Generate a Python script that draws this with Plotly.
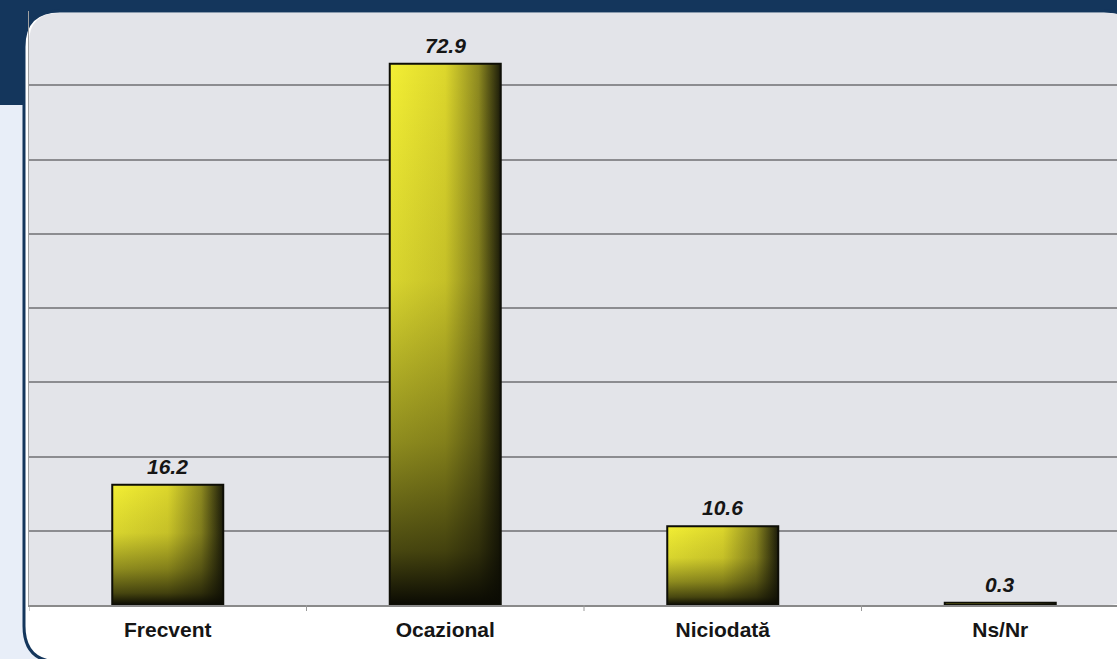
import plotly.graph_objects as go

categories = ["Frecvent", "Ocazional", "Niciodată", "Ns/Nr"]
values = [16.2, 72.9, 10.6, 0.3]
value_labels = ["16.2", "72.9", "10.6", "0.3"]

W, H = 1117, 659
L, R, T, B = 29, 0, 11, 54
pw, ph = W - L - R, H - T - B
CAT_PX = 277.5
BAR_W = 0.4
NAVY = "#14365C"
FONT = "Liberation Sans, Arial, sans-serif"


def px(x):
    return (x - L) / pw


def py(y):
    return (H - B - y) / ph


def rrect(x0, y0, x1, y1, r):
    pts = [
        ("M", [(x0 + r, y0)]), ("L", [(x1 - r, y0)]), ("Q", [(x1, y0), (x1, y0 + r)]),
        ("L", [(x1, y1 - r)]), ("Q", [(x1, y1), (x1 - r, y1)]), ("L", [(x0 + r, y1)]),
        ("Q", [(x0, y1), (x0, y1 - r)]), ("L", [(x0, y0 + r)]), ("Q", [(x0, y0), (x0 + r, y0)]),
    ]
    s = ""
    for cmd, ps in pts:
        s += cmd + " " + " ".join(f"{px(a):.5f},{py(b):.5f}" for a, b in ps) + " "
    return s + "Z"


fig = go.Figure()

# real bars (data carrier)
fig.add_trace(go.Bar(
    x=list(range(len(categories))), y=values, width=BAR_W,
    marker=dict(color="rgba(0,0,0,0)", line=dict(width=0)),
    hoverinfo="skip", showlegend=False,
))

for i, v in enumerate(values):
    xs = [i - BAR_W / 2, i + BAR_W / 2, i + BAR_W / 2, i - BAR_W / 2, i - BAR_W / 2]
    ys = [0, 0, v, v, 0]
    fig.add_trace(go.Scatter(
        x=xs, y=ys, mode="lines", fill="toself", line=dict(width=0),
        fillgradient=dict(type="horizontal",
                          colorscale=[[0, "#F3EF34"], [0.5, "#DDD72C"], [0.8, "#8E8A20"], [1, "#1C1C0A"]]),
        hoverinfo="skip", showlegend=False,
    ))
    fig.add_trace(go.Scatter(
        x=xs, y=ys, mode="lines", fill="toself", line=dict(width=2, color="#0E0E06"),
        fillgradient=dict(type="vertical",
                          colorscale=[[0, "rgba(10,10,3,1)"], [0.1, "rgba(15,15,4,0.75)"],
                                      [0.3, "rgba(20,20,5,0.45)"], [0.6, "rgba(25,25,6,0.12)"],
                                      [1, "rgba(0,0,0,0)"]]),
        hoverinfo="skip", showlegend=False,
    ))

annotations = [
    dict(x=i, y=v, xref="x", yref="y", text=lab, showarrow=False, yanchor="bottom", yshift=5,
         font=dict(family=FONT, size=21, color="#151515", weight="bold", style="italic"))
    for i, (v, lab) in enumerate(zip(values, value_labels))
]

shapes = [
    dict(type="rect", xref="paper", yref="paper", x0=px(0), x1=px(W), y0=py(105), y1=py(0),
         fillcolor=NAVY, line=dict(width=0), layer="below"),
    dict(type="rect", xref="paper", yref="paper", x0=px(0), x1=px(60), y0=py(H), y1=py(105),
         fillcolor="#E8EEF8", line=dict(width=0), layer="below"),
    dict(type="path", xref="paper", yref="paper", path=rrect(24, 11, 1140, 662, 36),
         fillcolor="#FFFFFF", line=dict(color=NAVY, width=3), layer="below"),
    dict(type="path", xref="paper", yref="paper", path=rrect(29, 13, 1137, 605, 30),
         fillcolor="#E3E4E9", line=dict(width=0), layer="below"),
    dict(type="rect", xref="paper", yref="paper", x0=px(29), x1=px(120), y0=py(605), y1=py(300),
         fillcolor="#E3E4E9", line=dict(width=0), layer="below"),
]

fig.update_layout(
    width=W, height=H,
    margin=dict(l=L, r=R, t=T, b=B),
    paper_bgcolor="#FFFFFF", plot_bgcolor="rgba(0,0,0,0)",
    shapes=shapes, annotations=annotations, showlegend=False, hovermode=False, bargap=0,
    xaxis=dict(
        range=[-0.5, -0.5 + pw / CAT_PX],
        tickvals=list(range(len(categories))), ticktext=categories,
        tickfont=dict(family=FONT, size=21, color="#151515", weight="bold"),
        showgrid=False, zeroline=False, showline=True, linecolor="#8A8A8A", linewidth=1.5,
        ticks="", ticklabelstandoff=5, fixedrange=True,
    ),
    yaxis=dict(
        range=[0, 80], dtick=10, showticklabels=False, showgrid=True,
        gridcolor="#8C8C90", gridwidth=1.5, zeroline=False, showline=True,
        linecolor="#A0A0A0", linewidth=1, ticks="", fixedrange=True,
    ),
)

for k in range(len(categories) + 1):
    fig.add_shape(type="line", xref="x", yref="paper", x0=k - 0.5, x1=k - 0.5,
                  y0=0, y1=-6 / ph, line=dict(color="#9A9A9A", width=1))

fig.write_html(
    "out.html",
    config={"displayModeBar": False},
    post_script="document.body.style.margin='0';document.body.style.padding='0';document.body.style.overflow='hidden';",
)
